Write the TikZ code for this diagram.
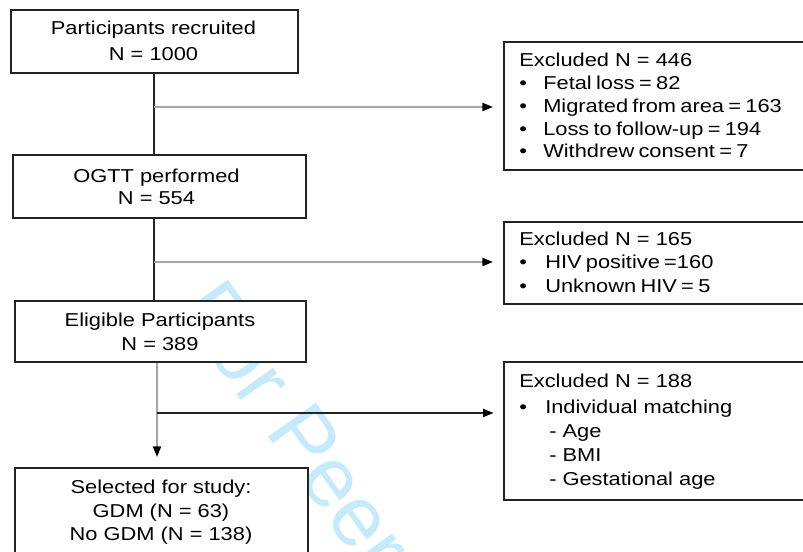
\documentclass[tikz,border=0pt]{standalone}
\usepackage{fontspec}
\setmainfont{Liberation Sans}[FakeStretch=1.17]
\newfontfamily\wmfont{Liberation Sans}
\usetikzlibrary{arrows.meta}
\definecolor{wm}{RGB}{196,234,251}
\definecolor{lgray}{RGB}{165,165,165}
\definecolor{dgray}{RGB}{35,35,35}
\newcommand\tightspc{\spaceskip=3.2pt\relax}
\begin{document}
\begin{tikzpicture}[x=0.75pt,y=-0.75pt,
  box/.style={draw=dgray,line width=1.5pt,fill=white,inner sep=0pt,anchor=north west},
  txt/.style={anchor=base,inner sep=0pt,font=\fontsize{14}{16}\selectfont},
  ltxt/.style={anchor=base west,inner sep=0pt,font=\fontsize{14}{16}\selectfont},
  ntxt/.style={ltxt,font={\fontsize{14}{16}\selectfont\tightspc}},
  conn/.style={line width=1.5pt},
  tip/.style={-{Triangle[length=8pt,width=6pt,color=black]}},
  wmtext/.style={text=wm,inner sep=0pt,anchor=base west,font=\wmfont\fontsize{64}{64}\selectfont}]
\useasboundingbox (0,0) rectangle (803,552);
\begin{scope}
\clip (0,0) rectangle (803,552);
\fill[white] (0,0) rectangle (803,552);
\node[wmtext,rotate=-54.5] (wmk) at (176,308) {For Peer Review};
% boxes
\node[box,minimum width={287*0.75pt},minimum height={63*0.75pt}] (b1) at (10,9) {};
\node[box,minimum width={293*0.75pt},minimum height={63*0.75pt}] (b2) at (12,154) {};
\node[box,minimum width={291*0.75pt},minimum height={61*0.75pt}] (b3) at (14,300) {};
\node[box,minimum width={293*0.75pt},minimum height={98*0.75pt}] (b4) at (14,467) {};
\node[box,minimum width={317*0.75pt},minimum height={128*0.75pt}] (r1) at (503,41) {};
\node[box,minimum width={317*0.75pt},minimum height={82*0.75pt}] (r2) at (503,221) {};
\node[box,minimum width={317*0.75pt},minimum height={138*0.75pt}] (r3) at (503,361) {};
% centre texts
\node[txt] (t1a) at (153.5,35) {Participants recruited};
\node[txt] (t1b) at (153.5,61) {N = 1000};
\node[txt] (t2a) at (156.5,182.5) {OGTT performed};
\node[txt] (t2b) at (156.5,205) {N = 554};
\node[txt] (t3a) at (160,326) {Eligible Participants};
\node[txt] (t3b) at (160,350) {N = 389};
\node[txt] (t4a) at (161,493) {Selected for study:};
\node[txt] (t4b) at (161,517) {GDM (N = 63)};
\node[txt] (t4c) at (161,540) {No GDM (N = 138)};
% right box 1
\node[ltxt] (r1h) at (519,66.5) {Excluded N = 446};
\node[ltxt] (r1p1) at (519,89.3) {•};
\node[ntxt] (r1t1) at (543,89.3) {Fetal loss = 82};
\node[ltxt] (r1p2) at (519,112.7) {•};
\node[ntxt] (r1t2) at (543,112.7) {Migrated from area = 163};
\node[ltxt] (r1p3) at (519,136) {•};
\node[ntxt] (r1t3) at (543,136) {Loss to follow-up = 194};
\node[ltxt] (r1p4) at (519,157.3) {•};
\node[ntxt] (r1t4) at (543,157.3) {Withdrew consent = 7};
% right box 2
\node[ltxt] (r2h) at (519,246) {Excluded N = 165};
\node[ltxt] (r2p1) at (519,269) {•};
\node[ntxt] (r2t1) at (545,269) {HIV positive =160};
\node[ltxt] (r2p2) at (519,292) {•};
\node[ntxt] (r2t2) at (545,292) {Unknown HIV = 5};
% right box 3
\node[ltxt] (r3h) at (519,387) {Excluded N = 188};
\node[ltxt] (r3p1) at (519,413) {•};
\node[ltxt] (r3t1) at (545,413) {Individual matching};
\node[ltxt] (r3t2) at (549,437) {- Age};
\node[ltxt] (r3t3) at (549,461) {- BMI};
\node[ltxt] (r3t4) at (549,485) {- Gestational age};
% connectors
\coordinate (j1) at (154,107);
\coordinate (j2) at (154,262);
\coordinate (j3) at (157,413);
\draw[conn,dgray] (b1.south -| j1) -- (b2.north -| j1);
\draw[conn,lgray,tip,shorten >=7.5pt] (j1) -- (j1 -| r1.west);
\draw[conn,dgray] (b2.south -| j2) -- (b3.north -| j2);
\draw[conn,lgray,tip,shorten >=7.5pt] (j2) -- (j2 -| r2.west);
\draw[conn,lgray,tip,shorten >=7.5pt] (b3.south -| j3) -- (b4.north -| j3);
\draw[conn,dgray,tip,shorten >=7pt] (j3) -- (j3 -| r3.west);
\end{scope}
\end{tikzpicture}
\end{document}
